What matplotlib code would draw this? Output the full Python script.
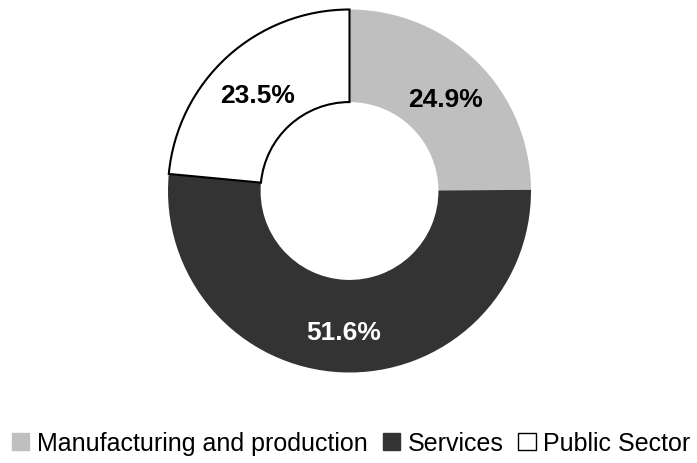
import matplotlib
matplotlib.use("Agg")
import matplotlib.pyplot as plt
from matplotlib.patches import Patch
import numpy as np

plt.rcParams['font.family'] = ['Liberation Sans', 'DejaVu Sans']

sectors = ['Manufacturing and production', 'Services', 'Public Sector']
shares = [24.9, 51.6, 23.5]
fills = ['#bfbfbf', '#333333', '#ffffff']
label_colors = ['black', 'white', 'black']

W, H = 697, 464
fig = plt.figure(figsize=(W / 100, H / 100), dpi=100)

# donut centre and outer radius in pixels
cx, cy, r = 349.5, 192, 181.5
ax = fig.add_axes([(cx - r) / W, (H - cy - r) / H, 2 * r / W, 2 * r / H])

wedges, _ = ax.pie(shares, colors=fills, startangle=90, counterclock=False,
                   radius=1.0, wedgeprops=dict(width=0.51, linewidth=0))
# only the white slice is outlined
wedges[2].set_edgecolor('black')
wedges[2].set_linewidth(1.5)
for w in wedges:
    w.set_clip_on(False)

# percentage labels at the middle of each ring segment
start = 90.0
for val, col in zip(shares, label_colors):
    mid = np.deg2rad(start - val * 3.6 / 2)
    start -= val * 3.6
    rr = 0.75
    ax.text(rr * np.cos(mid), rr * np.sin(mid) - 0.025, f'{val:.1f}%',
            ha='center', va='center', fontsize=19, fontweight='bold', color=col)

ax.set_xlim(-1, 1)
ax.set_ylim(-1, 1)
ax.set_aspect('auto')
ax.axis('off')

handles = [Patch(facecolor=f, edgecolor=('black' if f == '#ffffff' else f), linewidth=1.0)
           for f in fills]
fig.legend(handles, sectors, loc='center', bbox_to_anchor=(0.504, 1 - 444 / H),
           ncol=3, frameon=False, fontsize=18, handlelength=0.7, handleheight=0.7,
           handletextpad=0.3, columnspacing=0.6, borderaxespad=0)

fig.savefig('out.png', dpi=100)
